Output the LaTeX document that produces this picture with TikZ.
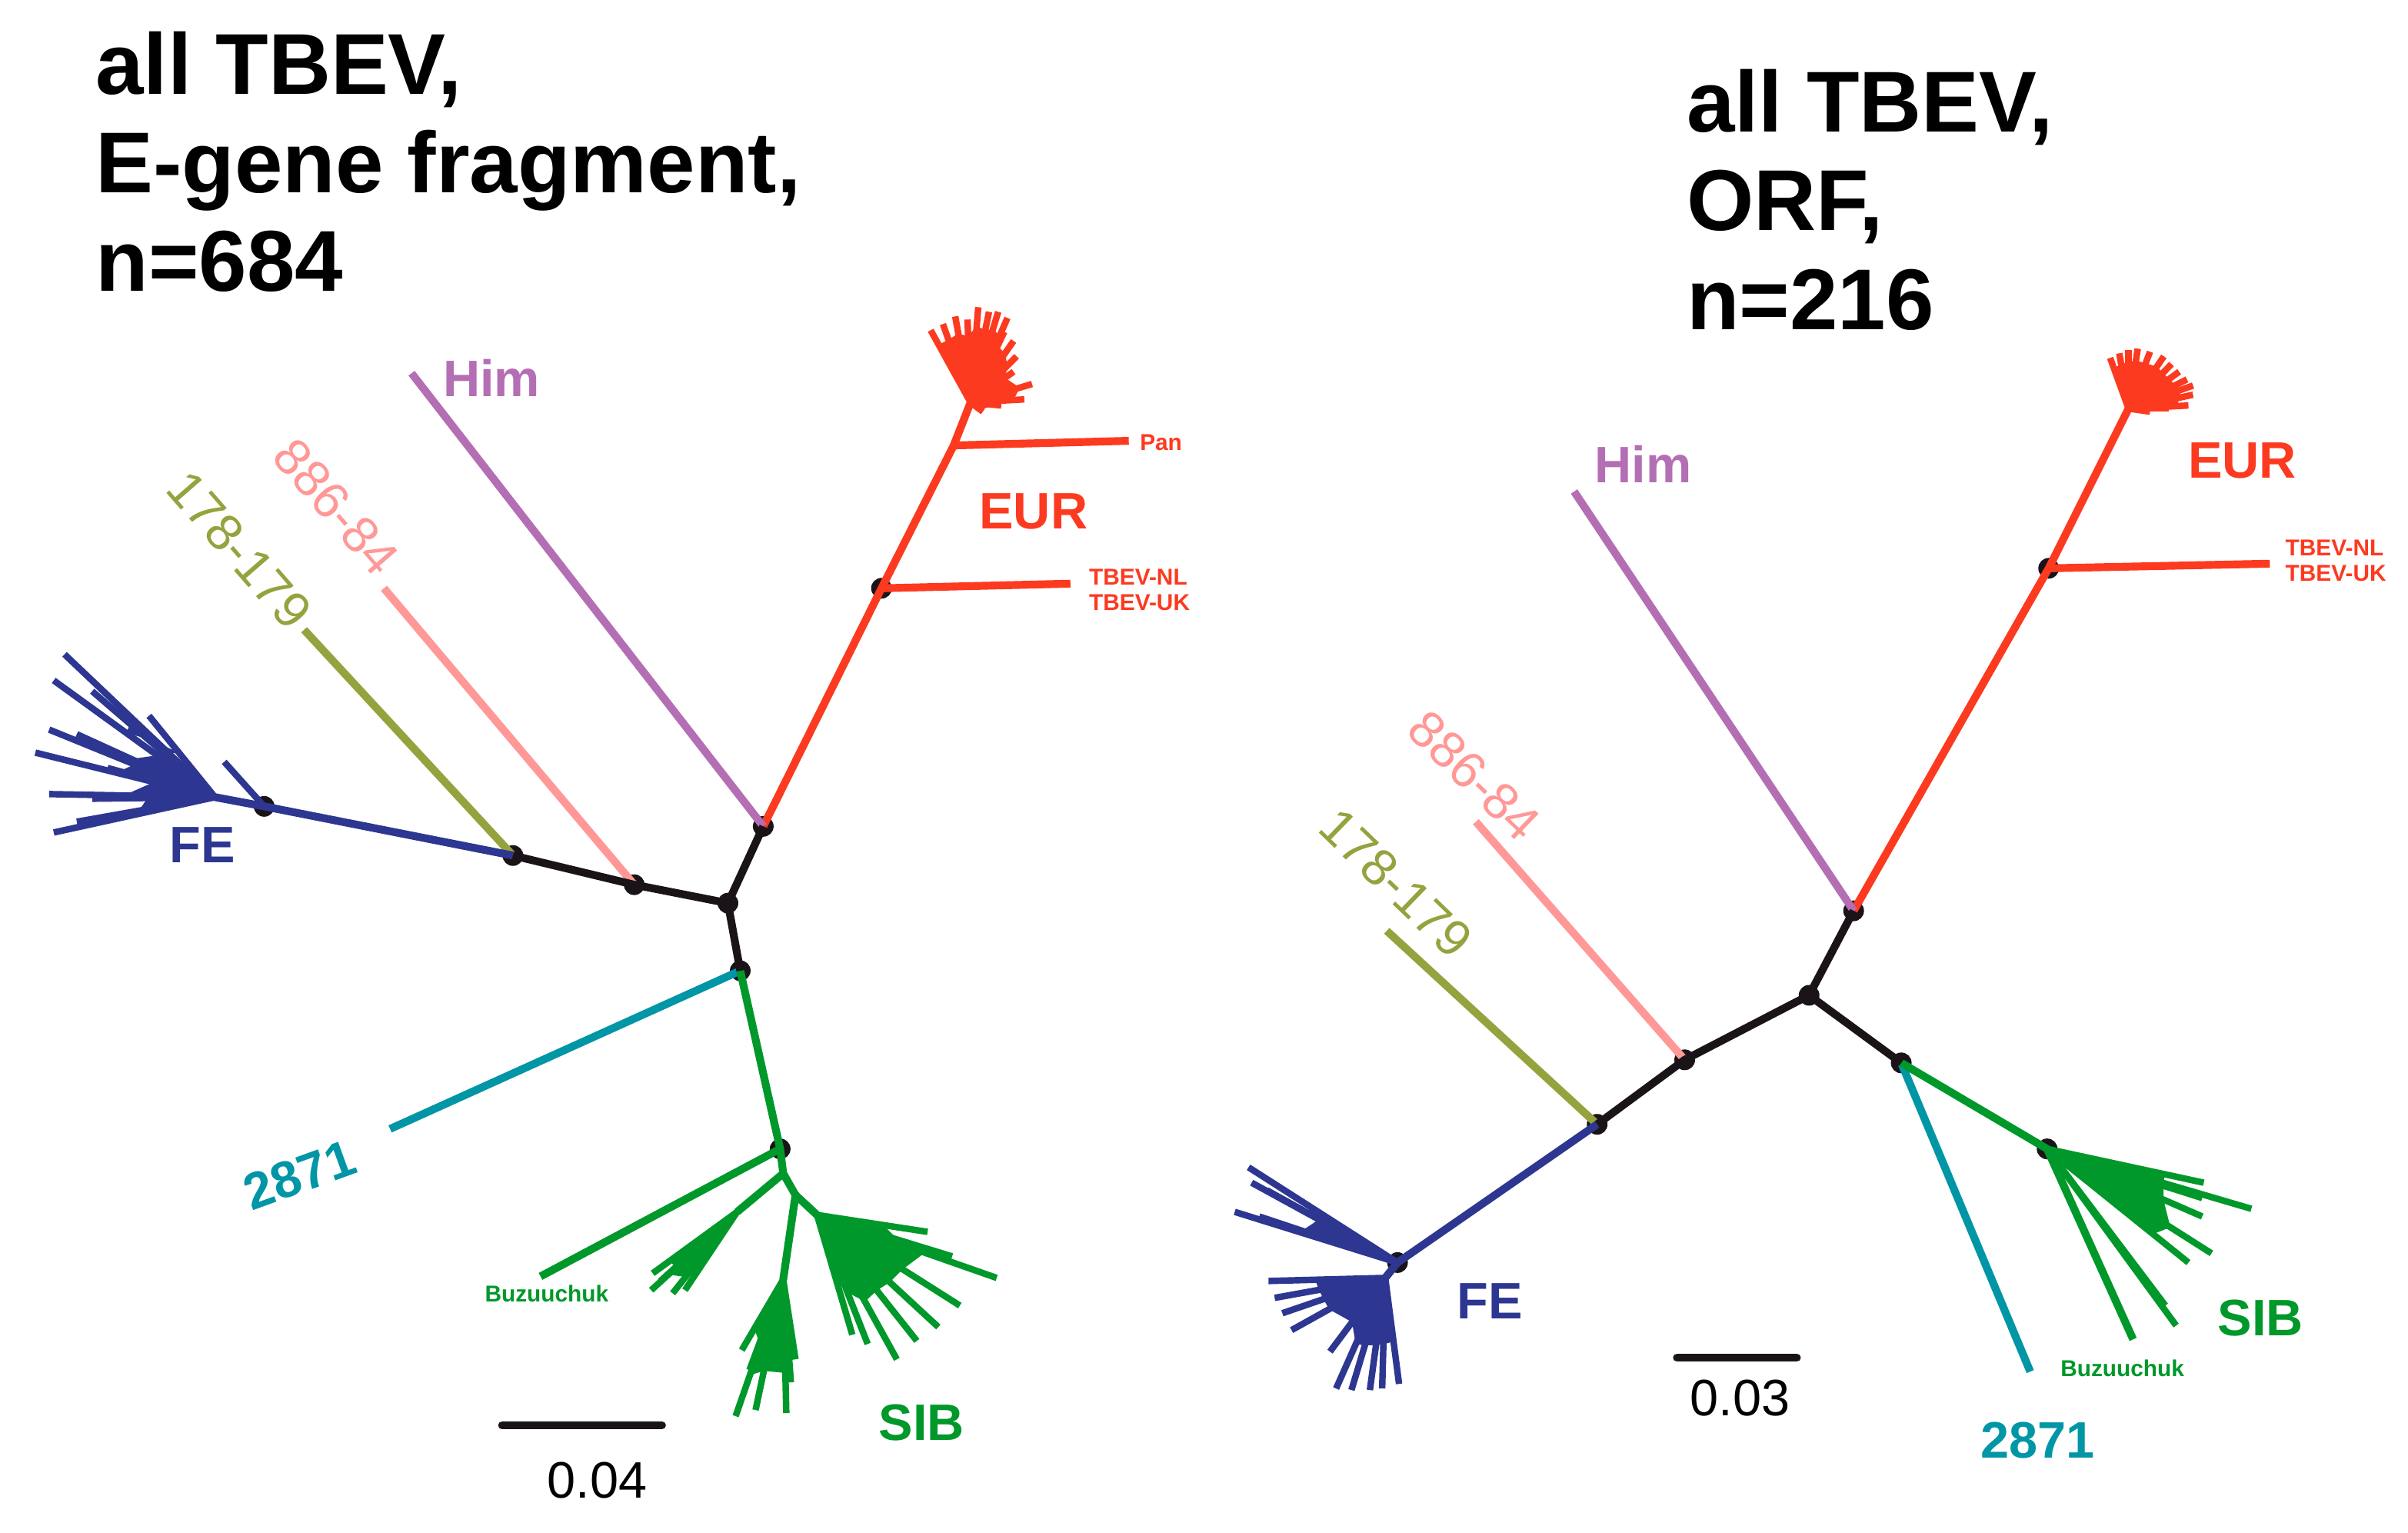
\documentclass[tikz,border=0pt]{standalone}
\usepackage{fontspec}
\setmainfont{Liberation Sans}
\usetikzlibrary{calc}
\definecolor{cEUR}{RGB}{252,58,32}
\definecolor{cHim}{RGB}{180,110,180}
\definecolor{cPink}{RGB}{255,152,150}
\definecolor{cOlive}{RGB}{150,162,62}
\definecolor{cFE}{RGB}{45,55,145}
\definecolor{cTeal}{RGB}{0,150,165}
\definecolor{cSIB}{RGB}{0,152,42}
\definecolor{cNode}{RGB}{26,20,24}

\begin{document}
\begin{tikzpicture}[x=0.02cm, y=-0.02cm, line join=round,
    dot/.style={circle, fill=cNode, inner sep=0pt, minimum size=0.27cm},
    br/.style={line width=2.9pt},
    tip/.style={line width=2.4pt},
    clade/.style={font=\bfseries\fontsize{19}{19}\selectfont},
    strain/.style={font=\fontsize{19}{19}\selectfont},
    small/.style={font=\bfseries\fontsize{8.5}{9.5}\selectfont, align=left},
    title/.style={font=\bfseries\fontsize{32}{36.5}\selectfont, align=left, anchor=north west, inner sep=0pt},
    bar/.style={line width=3pt, line cap=round, cNode}]
    \useasboundingbox (0,0) rectangle (1568,998);

    % titles
    \node[title] (ltitle) at (62,20) {all TBEV,\\E-gene fragment,\\n=684};
    \node[title] (rtitle) at (1098,45) {all TBEV,\\ORF,\\n=216};

    % ---------------- left tree ----------------
    % nodes
    \node[dot] (lA) at (474,588) {};
    \node[dot] (lB) at (497,538) {};
    \node[dot] (lC) at (482,632) {};
    \node[dot] (lD) at (413,576) {};
    \node[dot] (lE) at (334,557) {};
    \node[dot] (lF) at (172,525) {};
    \node[dot] (lG) at (508,748) {};
    \node[dot] (lH) at (574,383) {};
    \coordinate (lpanj) at (621,290);
    \coordinate (leur) at (632,262);
    \coordinate (lpan) at (735,287);
    \coordinate (ltbev) at (697,380);
    \coordinate (lhim) at (268,243);
    \coordinate (l886) at (250,383);
    \coordinate (l178) at (198,410);
    \coordinate (l2871) at (254,735);
    \coordinate (lbuz) at (352,831);
    \coordinate (lfeA) at (140,519);
    \coordinate (ls1) at (510,764);
    \coordinate (ls2) at (480,789);
    \coordinate (ls3) at (518,778);
    \coordinate (ls4) at (510,833);
    \coordinate (ls5) at (532,791);

    % edges
    \draw[br, cEUR] (lB.center) -- (lH.center) -- (lpanj) -- (leur);
    \draw[br, cEUR] (lpanj) -- (lpan);
    \draw[br, cEUR] (lH.center) -- (ltbev);
    \draw[br, cHim] (lB.center) -- (lhim);
    \draw[br, cPink] (lD.center) -- (l886);
    \draw[br, cOlive] (lE.center) -- (l178);
    \draw[br, cFE] (lE.center) -- (lF.center) -- (lfeA);
    \draw[br, cTeal] (lC.center) -- (l2871);
    \draw[br, cSIB] (lC.center) -- (lG.center) -- (lbuz);
    \draw[br, cSIB] (lG.center) -- (ls1) -- (ls2);
    \draw[br, cSIB] (ls1) -- (ls3) -- (ls4);
    \draw[br, cSIB] (ls3) -- (ls5);
    \draw[br, cNode] (lB.center) -- (lA.center) -- (lC.center);
    \draw[br, cNode] (lA.center) -- (lD.center) -- (lE.center);

    % fans
    \foreach \x/\y [count=\i] in {606/215, 614/211, 622/206, 630/208, 637/200, 644/203, 650/203, 656/207,
        654/216, 660/222, 662/232, 660/242, 672/250, 667/260, 652/264, 640/268} {
      \coordinate (leur\i) at (\x,\y);
      \draw[tip, cEUR] (leur) -- (leur\i);
    }
    \fill[cEUR] (leur) \foreach \i in {1,...,16} {-- ($(leur)!0.8!(leur\i)$)} -- cycle;

    \draw[tip, cFE] (lF.center) -- (146,496);
    \foreach \x/\y [count=\i] in {42/426, 35/443, 60/450, 97/466, 32/475, 50/478, 23/490, 70/500,
        32/517, 60/520, 50/535, 35/542} {
      \coordinate (lfe\i) at (\x,\y);
      \draw[tip, cFE] (lfeA) -- (lfe\i);
    }
    \fill[cFE] (lfeA) \foreach \i in {1,...,12} {-- ($(lfeA)!0.55!(lfe\i)$)} -- cycle;

    \foreach \x/\y [count=\i] in {425/829, 430/834, 424/840, 438/842, 446/840} {
      \coordinate (lsa\i) at (\x,\y);
      \draw[tip, cSIB] (ls2) -- (lsa\i);
    }
    \fill[cSIB] (ls2) \foreach \i in {1,...,5} {-- ($(ls2)!0.8!(lsa\i)$)} -- cycle;
    \foreach \x/\y [count=\i] in {483/879, 488/892, 479/922, 492/918, 512/920, 515/900, 518/885} {
      \coordinate (lsb\i) at (\x,\y);
      \draw[tip, cSIB] (ls4) -- (lsb\i);
    }
    \fill[cSIB] (ls4) \foreach \i in {1,...,7} {-- ($(ls4)!0.7!(lsb\i)$)} -- cycle;
    \foreach \x/\y [count=\i] in {555/869, 565/875, 584/885, 597/873, 611/864, 625/850, 649/832, 620/818, 604/802} {
      \coordinate (lsc\i) at (\x,\y);
      \draw[tip, cSIB] (ls5) -- (lsc\i);
    }
    \fill[cSIB] (ls5) \foreach \i in {2,...,9} {-- ($(ls5)!0.6!(lsc\i)$)} -- cycle;

    % labels
    \node[clade, cHim] (lhimlab) at (320,246) {Him};
    \node[strain, cPink, rotate=-49] (l886lab) at (219,330) {886-84};
    \node[strain, cOlive, rotate=-49] (l178lab) at (156,358) {178-179};
    \node[clade, cFE] (lfelab) at (132,550) {FE};
    \node[clade, cTeal, rotate=20] (l2871lab) at (195,765) {2871};
    \node[small, cSIB] (lbuzlab) at (356,842) {Buzuuchuk};
    \node[clade, cSIB] (lsiblab) at (600,926) {SIB};
    \node[clade, cEUR] (leurlab) at (673,333) {EUR};
    \node[small, cEUR] (lpanlab) at (756,288) {Pan};
    \node[small, cEUR, anchor=west] (ltbevlab) at (703,384) {TBEV-NL\\TBEV-UK};

    % scale
    \coordinate (lbar1) at (327,928);
    \coordinate (lbar2) at (431,928);
    \draw[bar] (lbar1) -- (lbar2);
    \node[strain] (lbarlab) at (389,964) {0.04};

    % ---------------- right tree ----------------
    % nodes
    \node[dot] (rA) at (1178,648) {};
    \node[dot] (rB) at (1207,593) {};
    \node[dot] (rC) at (1238,692) {};
    \node[dot] (rD) at (1097,690) {};
    \node[dot] (rE) at (1040,732) {};
    \node[dot] (rF) at (910,822) {};
    \node[dot] (rG) at (1333,748) {};
    \node[dot] (rH) at (1334,370) {};
    \coordinate (reur) at (1386,266);
    \coordinate (rtbev) at (1478,367);
    \coordinate (rhim) at (1025,320);
    \coordinate (r886) at (961,535);
    \coordinate (r178) at (903,606);
    \coordinate (r2871) at (1322,893);
    \coordinate (rbuz) at (1389,872);
    \coordinate (rfeA) at (902,832);

    % edges
    \draw[br, cEUR] (rB.center) -- (rH.center) -- (reur);
    \draw[br, cEUR] (rH.center) -- (rtbev);
    \draw[br, cHim] (rB.center) -- (rhim);
    \draw[br, cPink] (rD.center) -- (r886);
    \draw[br, cOlive] (rE.center) -- (r178);
    \draw[br, cFE] (rE.center) -- (rF.center) -- (rfeA);
    \draw[br, cTeal] (rC.center) -- (r2871);
    \draw[br, cSIB] (rC.center) -- (rG.center) -- (rbuz);
    \draw[br, cNode] (rB.center) -- (rA.center) -- (rC.center);
    \draw[br, cNode] (rA.center) -- (rD.center) -- (rE.center);

    % fans
    \foreach \x/\y [count=\i] in {1374/233, 1380/230, 1386/228, 1392/227, 1400/229, 1409/232, 1414/237,
        1419/242, 1424/247, 1428/251, 1428/257, 1425/264, 1412/266, 1400/268} {
      \coordinate (reur\i) at (\x,\y);
      \draw[tip, cEUR] (reur) -- (reur\i);
    }
    \fill[cEUR] (reur) \foreach \i in {1,...,14} {-- ($(reur)!0.8!(reur\i)$)} -- cycle;

    \foreach \x/\y [count=\i] in {813/760, 815/770, 825/775, 804/789, 820/792} {
      \coordinate (rfu\i) at (\x,\y);
      \draw[tip, cFE] (rF.center) -- (rfu\i);
    }
    \fill[cFE] (rF.center) \foreach \i in {1,...,5} {-- ($(rF.center)!0.6!(rfu\i)$)} -- cycle;
    \foreach \x/\y [count=\i] in {826/834, 830/845, 835/855, 841/866, 866/880, 870/904, 880/905,
        892/905, 900/904, 911/901} {
      \coordinate (rfl\i) at (\x,\y);
      \draw[tip, cFE] (rfeA) -- (rfl\i);
    }
    \fill[cFE] (rfeA) \foreach \i in {1,...,10} {-- ($(rfeA)!0.6!(rfl\i)$)} -- cycle;

    \foreach \x/\y [count=\i] in {1466/787, 1435/770, 1434/780, 1434/792, 1440/816, 1425/822, 1410/850, 1417/863} {
      \coordinate (rsib\i) at (\x,\y);
      \draw[tip, cSIB] (rG.center) -- (rsib\i);
    }
    \fill[cSIB] (rG.center) \foreach \i in {2,...,6} {-- ($(rG.center)!0.75!(rsib\i)$)} -- cycle;

    % labels
    \node[clade, cHim] (rhimlab) at (1070,302) {Him};
    \node[strain, cPink, rotate=-44] (r886lab) at (960,505) {886-84};
    \node[strain, cOlive, rotate=-44] (r178lab) at (909,575) {178-179};
    \node[clade, cFE] (rfelab) at (970,847) {FE};
    \node[clade, cTeal] (r2871lab) at (1327,938) {2871};
    \node[small, cSIB] (rbuzlab) at (1382,891) {Buzuuchuk};
    \node[clade, cSIB] (rsiblab) at (1472,858) {SIB};
    \node[clade, cEUR] (reurlab) at (1460,300) {EUR};
    \node[small, cEUR, anchor=west] (rtbevlab) at (1482,365) {TBEV-NL\\TBEV-UK};

    % scale
    \coordinate (rbar1) at (1092,884);
    \coordinate (rbar2) at (1170,884);
    \draw[bar] (rbar1) -- (rbar2);
    \node[strain] (rbarlab) at (1133,910) {0.03};
\end{tikzpicture}
\end{document}
